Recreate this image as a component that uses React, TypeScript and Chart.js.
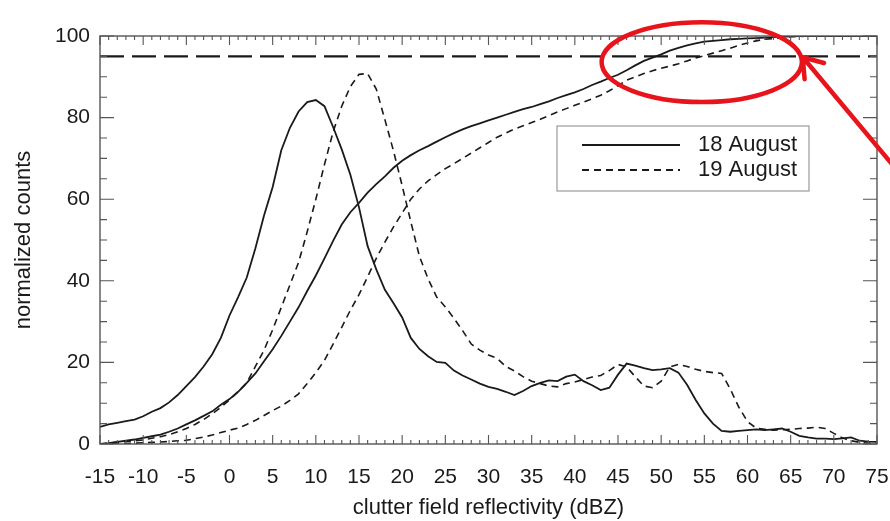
import React, { useEffect, useRef } from "react";
import { Chart, registerables } from "chart.js";

Chart.register(...registerables);

// reflectivity bins (dBZ)
const dbz = [
  -15, -14, -13, -12, -11, -10, -9, -8, -7, -6, -5, -4, -3, -2, -1,
  0, 1, 2, 3, 4, 5, 6, 7, 8, 9, 10, 11, 12, 13, 14, 15, 16, 17, 18, 19,
  20, 21, 22, 23, 24, 25, 26, 27, 28, 29, 30, 31, 32, 33, 34, 35, 36, 37, 38, 39,
  40, 41, 42, 43, 44, 45, 46, 47, 48, 49, 50, 51, 52, 53, 54, 55, 56, 57, 58, 59,
  60, 61, 62, 63, 64, 65, 66, 67, 68, 69, 70, 71, 72, 73, 74, 75,
];

// 18 August histogram (solid)
const hist18 = [
  4.2, 4.8, 5.2, 5.6, 6.0, 6.8, 7.9, 8.8, 10.2, 12.0,
  14.2, 16.4, 19.0, 22.0, 26.0,
  31.5, 36.0, 40.8, 48.0, 56.0,
  63.0, 72.0, 77.5, 81.5, 83.8,
  84.3, 82.8, 77.7, 72.2, 66.0, 58.0, 48.5, 42.8, 37.8, 34.5,
  31.0, 26.0, 23.3, 21.5, 20.1, 19.9, 18.0, 16.8, 15.8, 14.8,
  14.0, 13.5, 12.8, 12.0, 13.0, 14.2, 15.0, 15.6, 15.4, 16.5,
  17.0, 15.4, 14.4, 13.2, 13.8, 17.0, 19.7, 19.2, 18.6, 18.1,
  18.3, 18.6, 17.5, 14.5, 10.8, 7.5, 5.0, 3.2, 3.0, 3.2,
  3.4, 3.6, 3.4, 3.6, 3.8, 3.0, 2.0, 1.6, 1.3, 1.3,
  1.2, 1.4, 1.6, 0.8, 0.6, 0.5,
];

// 19 August histogram (dashed)
const hist19 = [
  0, 0.2, 0.4, 0.6, 0.8, 1.0, 1.4, 1.8, 2.3, 3.0,
  3.8, 4.8, 6.0, 7.4, 9.0,
  10.8, 12.8, 15.0, 19.0, 23.0,
  28.0, 33.5, 39.0, 44.5, 52.0,
  60.0, 68.5, 76.5, 82.8, 87.6, 90.6, 90.8, 87.0, 79.5, 71.8,
  63.3, 54.5, 46.0, 40.5, 36.0, 33.6, 30.8, 27.8, 24.5, 23.0,
  21.8, 21.0, 19.0, 17.9, 16.5, 15.4, 14.8, 14.2, 14.0, 14.8,
  15.2, 15.8, 16.4, 16.8, 18.0, 19.5, 18.9, 16.5, 14.2, 13.8,
  15.4, 18.9, 19.5, 19.0, 18.3, 17.8, 17.5, 17.3, 13.5, 9.0,
  5.5, 3.9, 3.6, 3.4, 3.5, 3.6, 3.8, 3.9, 4.1, 3.8,
  2.6, 1.5, 0.8, 0.4, 0.2, 0.1,
];

// 18 August cumulative (solid)
const cum18 = [
  0, 0.2, 0.5, 0.8, 1.1, 1.5, 1.9, 2.3, 3.0, 3.8,
  4.8, 5.8, 6.9, 8.0, 9.6,
  11.0, 12.8, 15.0, 17.3, 20.3,
  23.2, 26.5, 30.0, 33.5, 37.5,
  41.3, 45.5, 49.8, 53.8, 56.8, 59.1, 61.6, 63.7, 65.6, 67.7,
  69.4, 70.8, 72.0, 73.0, 74.1, 75.2, 76.2, 77.1, 77.9, 78.6,
  79.3, 80.0, 80.7, 81.4, 82.1, 82.6, 83.3, 84.0, 84.8, 85.5,
  86.2, 87.0, 88.0, 88.8, 89.7, 90.5, 91.6, 92.8, 93.9, 94.7,
  95.5, 96.4, 97.1, 97.7, 98.2, 98.6, 98.8, 99.0, 99.2, 99.3,
  99.4, 99.5, 99.6, 99.7, 99.8, 99.9, 100, 100, 100, 100,
  100, 100, 100, 100, 100, 100,
];

// 19 August cumulative (dashed)
const cum19 = [
  0, 0, 0.1, 0.1, 0.2, 0.3, 0.4, 0.5, 0.6, 0.8,
  0.9, 1.3, 1.7, 2.2, 2.8,
  3.4, 3.9, 4.8, 5.8, 7.0,
  8.2, 9.3, 10.7, 12.3, 14.8,
  17.5, 20.5, 24.5, 28.6, 32.8, 36.6, 41.0, 45.5, 49.5, 53.2,
  56.6, 60.0, 62.5, 64.5, 66.0, 67.5, 68.7, 70.0, 71.3, 72.6,
  73.9, 75.2, 76.2, 77.2, 78.0, 78.8, 79.6, 80.5, 81.4, 82.2,
  83.0, 83.8, 84.6, 85.5, 86.6, 87.8, 89.2, 90.0, 90.8, 91.5,
  92.1, 92.6, 93.2, 93.9, 94.6, 95.2, 95.8, 96.4, 97.0, 97.7,
  98.3, 98.8, 99.2, 99.4, 99.6, 99.8, 99.9, 100, 100, 100,
  100, 100, 100, 100, 100, 100,
];

const threshold = 95;
const xRange = [-15, 75];
const yRange = [0, 100];
const legendLabels = ["18 August", "19 August"];
const xTitle = "clutter field reflectivity (dBZ)";
const yTitle = "normalized counts";

// annotation (data units)
const ellipseCenter = { x: 54.7, y: 93.6 };
const ellipseRadius = { x: 11.6, y: 9.8 };
const arrowTip = { x: 66.4, y: 94.8 };
const arrowTail = { x: 77.0, y: 67.9 };

const FONT = "'Liberation Sans', Arial, Helvetica, sans-serif";
const INK = "#1a1a1a";

const pts = (ys: number[]) => dbz.map((x, i) => ({ x, y: ys[i] }));

const framePlugin = {
  id: "framePlugin",
  afterDatasetsDraw(chart: any) {
    const { ctx, chartArea, scales } = chart;
    const { left, right, top, bottom } = chartArea;
    const xs = scales.x;
    const ys = scales.y;
    ctx.save();
    // axes box
    ctx.strokeStyle = "#555";
    ctx.lineWidth = 1.4;
    ctx.strokeRect(left, top, right - left, bottom - top);
    // inward ticks
    ctx.lineWidth = 1.1;
    for (let v = xRange[0]; v <= xRange[1]; v += 1) {
      const px = xs.getPixelForValue(v);
      const len = v % 5 === 0 ? 9 : 4;
      ctx.beginPath();
      ctx.moveTo(px, bottom);
      ctx.lineTo(px, bottom - len);
      ctx.moveTo(px, top);
      ctx.lineTo(px, top + len);
      ctx.stroke();
    }
    for (let v = yRange[0]; v <= yRange[1]; v += 5) {
      const py = ys.getPixelForValue(v);
      const len = v % 20 === 0 ? 14 : 7;
      ctx.beginPath();
      ctx.moveTo(left, py);
      ctx.lineTo(left + len, py);
      ctx.moveTo(right, py);
      ctx.lineTo(right - len, py);
      ctx.stroke();
    }

    // legend
    const bx = left + 457;
    const by = top + 90;
    const bw = 252;
    const bh = 65;
    ctx.strokeStyle = "#9a9a9a";
    ctx.lineWidth = 1.2;
    ctx.strokeRect(bx, by, bw, bh);
    ctx.strokeStyle = INK;
    ctx.lineWidth = 2.2;
    ctx.beginPath();
    ctx.moveTo(bx + 25, by + 19);
    ctx.lineTo(bx + 123, by + 19);
    ctx.stroke();
    ctx.setLineDash([7, 5]);
    ctx.lineWidth = 1.8;
    ctx.beginPath();
    ctx.moveTo(bx + 25, by + 44);
    ctx.lineTo(bx + 123, by + 44);
    ctx.stroke();
    ctx.setLineDash([]);
    ctx.fillStyle = INK;
    ctx.font = `22px ${FONT}`;
    ctx.textBaseline = "middle";
    ctx.textAlign = "left";
    ctx.fillText(legendLabels[0], bx + 141, by + 19);
    ctx.fillText(legendLabels[1], bx + 141, by + 44);

    // red ellipse + arrow annotation
    const cx = xs.getPixelForValue(ellipseCenter.x);
    const cy = ys.getPixelForValue(ellipseCenter.y);
    const rx = xs.getPixelForValue(ellipseCenter.x + ellipseRadius.x) - cx;
    const ry = cy - ys.getPixelForValue(ellipseCenter.y + ellipseRadius.y);
    ctx.strokeStyle = "#e8141b";
    ctx.lineWidth = 4.5;
    ctx.beginPath();
    ctx.ellipse(cx, cy, rx, ry, 0, 0, Math.PI * 2);
    ctx.stroke();
    const tx = xs.getPixelForValue(arrowTip.x);
    const ty = ys.getPixelForValue(arrowTip.y);
    const ex = xs.getPixelForValue(arrowTail.x);
    const ey = ys.getPixelForValue(arrowTail.y);
    const ang = Math.atan2(ey - ty, ex - tx);
    const head = 22;
    const spread = (35 * Math.PI) / 180;
    ctx.lineCap = "round";
    ctx.lineJoin = "round";
    ctx.beginPath();
    ctx.moveTo(ex, ey);
    ctx.lineTo(tx, ty);
    ctx.moveTo(tx + head * Math.cos(ang + spread), ty + head * Math.sin(ang + spread));
    ctx.lineTo(tx, ty);
    ctx.lineTo(tx + head * Math.cos(ang - spread), ty + head * Math.sin(ang - spread));
    ctx.stroke();
    ctx.restore();
  },
};

const bgPlugin = {
  id: "bgPlugin",
  beforeDraw(chart: any) {
    const { ctx, width, height } = chart;
    ctx.save();
    ctx.fillStyle = "#ffffff";
    ctx.fillRect(0, 0, width, height);
    ctx.restore();
  },
};

export default function App() {
  const ref = useRef<HTMLCanvasElement | null>(null);
  useEffect(() => {
    if (!ref.current) return;
    const common = { pointRadius: 0, tension: 0, borderColor: INK, fill: false };
    const chart = new Chart(ref.current, {
      type: "line",
      data: {
        datasets: [
          { ...common, label: legendLabels[0], data: pts(hist18), borderWidth: 1.8 },
          { ...common, label: legendLabels[1], data: pts(hist19), borderWidth: 1.6, borderDash: [7, 5] },
          { ...common, label: legendLabels[0] + " cumulative", data: pts(cum18), borderWidth: 1.8 },
          { ...common, label: legendLabels[1] + " cumulative", data: pts(cum19), borderWidth: 1.6, borderDash: [7, 5] },
          {
            ...common,
            label: "threshold",
            data: [
              { x: xRange[0], y: threshold },
              { x: xRange[1], y: threshold },
            ],
            borderWidth: 2.4,
            borderDash: [24, 8],
          },
        ],
      },
      options: {
        animation: false,
        responsive: false,
        layout: { padding: { top: 36, right: 13, left: 0, bottom: 0 } },
        plugins: { legend: { display: false }, tooltip: { enabled: false } },
        scales: {
          x: {
            type: "linear",
            min: xRange[0],
            max: xRange[1],
            grid: { display: false, drawTicks: false },
            border: { display: false },
            ticks: {
              stepSize: 5,
              padding: 21,
              maxRotation: 0,
              autoSkip: false,
              color: INK,
              font: { family: FONT, size: 21 },
            },
            title: {
              display: true,
              text: xTitle,
              color: INK,
              font: { family: FONT, size: 22 },
              padding: { top: 0, bottom: 0 },
            },
            afterFit(scale: any) {
              scale.height = 77;
              scale.paddingLeft = 0;
              scale.paddingRight = 0;
            },
          },
          y: {
            type: "linear",
            min: yRange[0],
            max: yRange[1],
            grid: { display: false, drawTicks: false },
            border: { display: false },
            ticks: {
              stepSize: 20,
              padding: 10,
              color: INK,
              font: { family: FONT, size: 21 },
            },
            title: {
              display: true,
              text: yTitle,
              color: INK,
              font: { family: FONT, size: 22 },
              padding: { top: 11, bottom: 0 },
            },
            afterFit(scale: any) {
              scale.width = 100;
              scale.paddingTop = 0;
              scale.paddingBottom = 0;
            },
          },
        },
      },
      plugins: [bgPlugin, framePlugin],
    });
    return () => chart.destroy();
  }, []);
  return (
    <div style={{ position: "fixed", left: 0, top: 0, width: 890, height: 521 }}>
      <canvas ref={ref} width={890} height={521} style={{ display: "block" }} />
    </div>
  );
}
